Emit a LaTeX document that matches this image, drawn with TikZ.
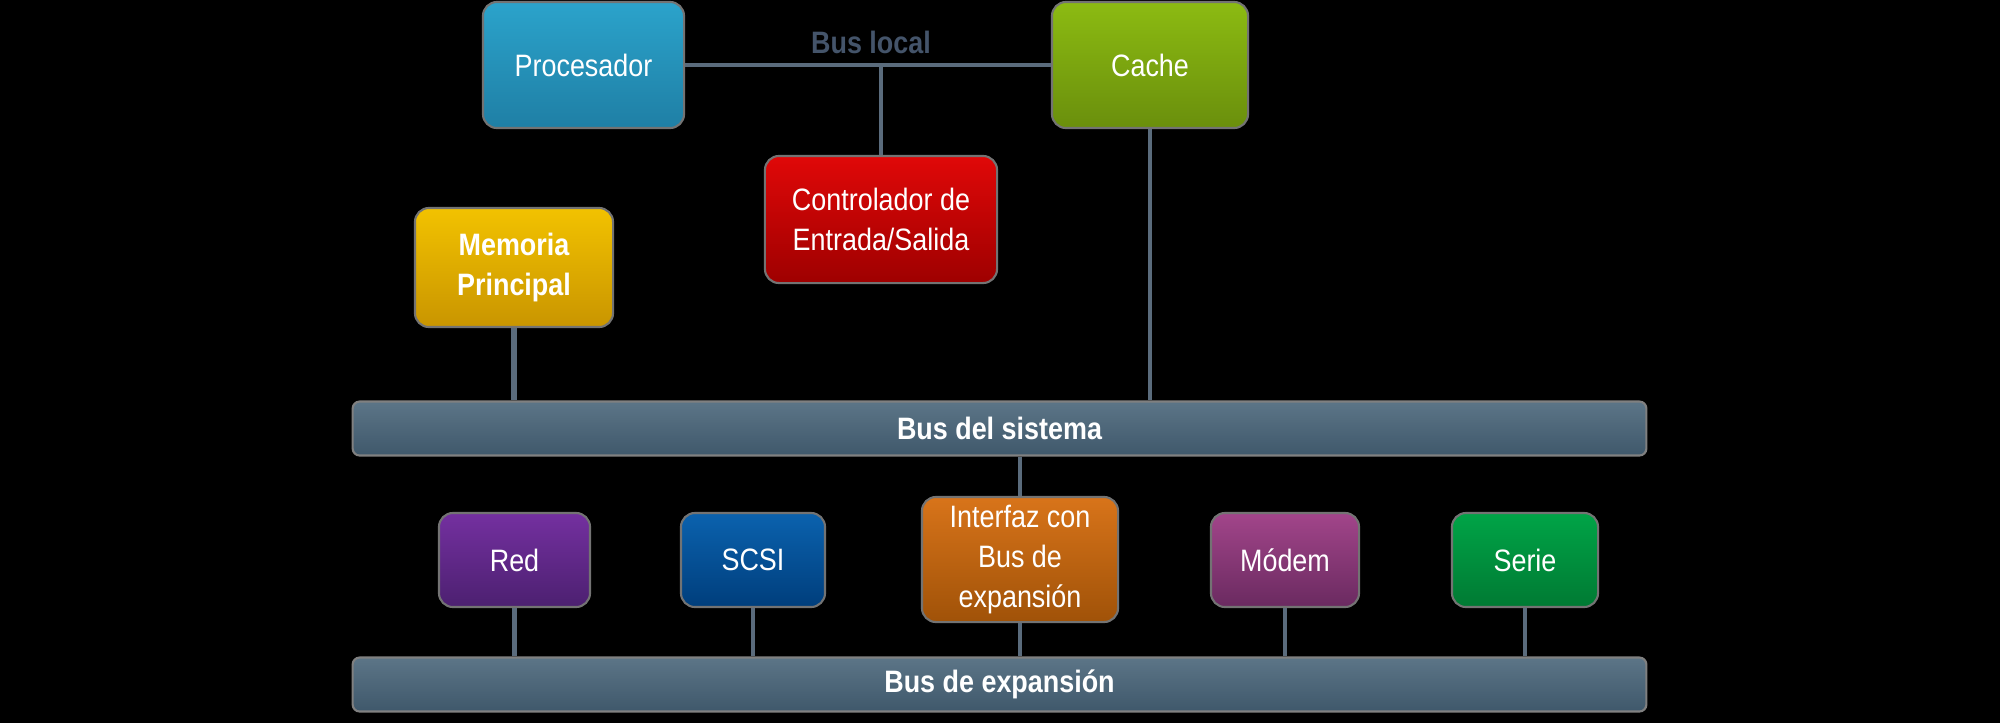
\documentclass[tikz,border=0pt]{standalone}
\usepackage{fontspec}
\setmainfont{Liberation Sans}[FakeStretch=0.87]

% colores de las cajas
\definecolor{procA}{HTML}{2BA3CB}\definecolor{procB}{HTML}{1F7FA5}
\definecolor{cacheA}{HTML}{8CBB12}\definecolor{cacheB}{HTML}{6A8F0C}
\definecolor{ctrlA}{HTML}{E00808}\definecolor{ctrlB}{HTML}{9E0000}
\definecolor{memA}{HTML}{F2C200}\definecolor{memB}{HTML}{C99500}
\definecolor{redA}{HTML}{7430A0}\definecolor{redB}{HTML}{4C2070}
\definecolor{scsiA}{HTML}{0B62AE}\definecolor{scsiB}{HTML}{003E7C}
\definecolor{intA}{HTML}{D8741A}\definecolor{intB}{HTML}{A05208}
\definecolor{modA}{HTML}{A2458A}\definecolor{modB}{HTML}{6A2A60}
\definecolor{serA}{HTML}{00A447}\definecolor{serB}{HTML}{007A33}
\definecolor{busA}{HTML}{5C7587}\definecolor{busB}{HTML}{3F586B}
\definecolor{linea}{HTML}{5A6B7C}
\definecolor{textobus}{HTML}{44546A}

\begin{document}
\begin{tikzpicture}[x=0.01cm, y=-0.01cm, line join=round, font=\fontsize{8.8}{11.3}\selectfont,
	caja/.style 2 args={rectangle, rounded corners=4pt, draw=black!55, line width=0.6pt, top color=#1, bottom color=#2, text=white, align=center, inner sep=0pt},
	bus/.style={rectangle, rounded corners=2pt, draw=black!50, line width=0.6pt, top color=busA, bottom color=busB, text=white, font=\fontsize{8.8}{11.3}\selectfont\bfseries, minimum width=12.93cm, minimum height=0.54cm, inner sep=0pt},
	enlace/.style={draw=linea, line width=0.9pt},
	grueso/.style={draw=linea, line width=1.5pt}]
	
	% Fondo negro y tamaño de la figura
	\fill[black] (0,0) rectangle (2000,723);
	\useasboundingbox (0,0) rectangle (2000,723);
	
	% Cajas de arriba
	\node[caja={procA}{procB}, minimum width=2.01cm, minimum height=1.26cm] (proc) at (583.5,65) {Procesador};
	\node[caja={cacheA}{cacheB}, minimum width=1.96cm, minimum height=1.26cm] (cache) at (1150,65) {Cache};
	\node[caja={ctrlA}{ctrlB}, minimum width=2.32cm, minimum height=1.27cm] (ctrl) at (881,219.5) {Controlador de\\Entrada/Salida};
	\node[caja={memA}{memB}, minimum width=1.98cm, minimum height=1.19cm, font=\fontsize{8.8}{11.3}\selectfont\bfseries] (mem) at (514,267.5) {Memoria\\Principal};
	\node[font=\fontsize{8.8}{11.3}\selectfont\bfseries, text=textobus] (blocal) at (871,42) {Bus local};
	
	% Los dos buses
	\node[bus] (sist) at (999.5,428.5) {Bus del sistema};
	\node[bus] (exp) at (999.5,684.5) {Bus de expansión};
	
	% Dispositivos de expansión
	\node[caja={redA}{redB}, minimum width=1.51cm, minimum height=0.94cm] (red) at (514.5,560) {Red};
	\node[caja={scsiA}{scsiB}, minimum width=1.44cm, minimum height=0.94cm] (scsi) at (753,560) {SCSI};
	\node[caja={intA}{intB}, minimum width=1.96cm, minimum height=1.25cm] (intf) at (1020,559.5) {Interfaz con\\Bus de\\expansión};
	\node[caja={modA}{modB}, minimum width=1.48cm, minimum height=0.94cm] (modem) at (1285,560) {Módem};
	\node[caja={serA}{serB}, minimum width=1.46cm, minimum height=0.94cm] (serie) at (1525,560) {Serie};
	
	% Bus local
	\draw[enlace] (proc.east) -- (cache.west);
	\draw[enlace] (ctrl.north |- proc.east) -- (ctrl.north);
	
	% Conexiones con el bus del sistema
	\draw[enlace] (cache.south) -- (cache.south |- sist.north);
	\draw[grueso] (mem.south) -- (mem.south |- sist.north);
	\draw[enlace] (intf.north |- sist.south) -- (intf.north);
	
	% Conexiones con el bus de expansión
	\draw[grueso] (red.south) -- (red.south |- exp.north);
	\foreach \d in {scsi, intf, modem, serie} {
		\draw[enlace] (\d.south) -- (\d.south |- exp.north);
	}
\end{tikzpicture}
\end{document}
